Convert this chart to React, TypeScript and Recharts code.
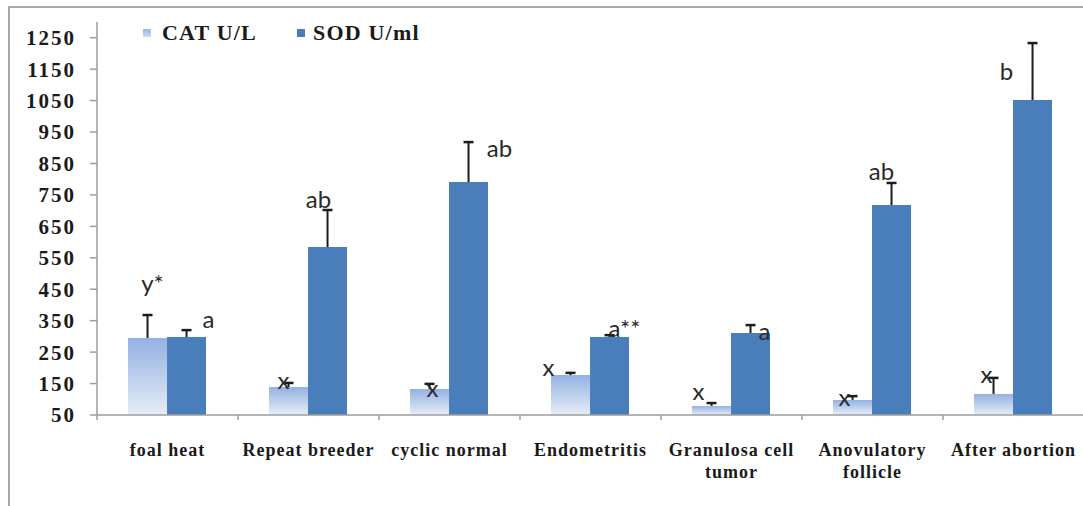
import React from 'react';
import { BarChart, Bar, XAxis, YAxis, LabelList, Legend } from 'recharts';

const categories = [
  'foal heat',
  'Repeat breeder',
  'cyclic normal',
  'Endometritis',
  'Granulosa cell\ntumor',
  'Anovulatory\nfollicle',
  'After abortion',
];
const catValues = [295, 139, 133, 177, 79, 98, 117];
const catErrors = [73, 13, 16, 7, 9, 12, 51];
const sodValues = [298, 584, 791, 298, 311, 718, 1052];
const sodErrors = [22, 118, 127, 6, 25, 70, 181];
const catLetters = ['y*', 'x', 'x', 'x', 'x', 'x', 'x'];
const sodLetters = ['a', 'ab', 'ab', 'a**', 'a', 'ab', 'b'];
const yTicks = [50, 150, 250, 350, 450, 550, 650, 750, 850, 950, 1050, 1150, 1250];
const yDomain = [50, 1300];

// label placement (dx, dy) relative to the top of each error bar
const catLetterOffsets = [[5, -23], [-5, 6], [3, 13], [-22, 3], [-13, -3], [-8, 10], [-7, 5]];
const sodLetterOffsets = [[22, -2], [-9, -2], [31, 15], [15, 2], [14, 15], [-10, -3], [-26, 37]];

const data = categories.map((c, i) => ({
  name: c,
  cat: catValues[i],
  sod: sodValues[i],
}));

const SOD_COLOR = '#4a7ebb';
const AXIS_COLOR = '#9d9d9d';
const SERIF = '"Liberation Serif", "Times New Roman", serif';
const SANS = 'Lato, Carlito, "Open Sans", sans-serif';

const CHART_W = 1100;
const CHART_H = 506;
const MARGIN = { top: 22, right: 16, bottom: 21, left: 0 };
const Y_AXIS_W = 97;
const PLOT_W = CHART_W - MARGIN.left - MARGIN.right - Y_AXIS_W;

const makeAnnotation = (values: number[], errors: number[], letters: string[], offsets: number[][]) =>
  (props: any) => {
    const vb = props.viewBox || props;
    const index = props.index;
    if (index == null || vb == null) return null;
    const x = Number(vb.x);
    const w = Number(vb.width);
    const hRaw = Number(vb.height);
    const h = Math.abs(hRaw);
    const top = hRaw < 0 ? Number(vb.y) + hRaw : Number(vb.y);
    const v = values[index];
    const pxPerUnit = h / (v - yDomain[0]);
    const cx = x + w / 2;
    const ey = top - errors[index] * pxPerUnit;
    const [dx, dy] = offsets[index];
    return (
      <g>
        <line x1={cx} y1={top} x2={cx} y2={ey} stroke="#1c1c1c" strokeWidth={2} />
        <line x1={cx - 5} y1={ey} x2={cx + 5} y2={ey} stroke="#1c1c1c" strokeWidth={2.5} />
        <text
          x={cx + dx}
          y={ey + dy}
          textAnchor="middle"
          fontFamily={SANS}
          fontSize={24}
          fill="#2a2a2a"
        >
          {letters[index]}
        </text>
      </g>
    );
  };

const XTick = (props: any) => {
  const { x, y, payload, index, visibleTicksCount } = props;
  const half = payload && typeof payload.offset === 'number' && payload.offset > 0
    ? payload.offset
    : PLOT_W / categories.length / 2;
  const lines = String(payload.value).split('\n');
  const isLast = index === (visibleTicksCount ?? categories.length) - 1;
  return (
    <g>
      <line x1={x - half} y1={y} x2={x - half} y2={y + 5} stroke={AXIS_COLOR} strokeWidth={1.5} />
      {isLast && (
        <line x1={x + half} y1={y} x2={x + half} y2={y + 5} stroke={AXIS_COLOR} strokeWidth={1.5} />
      )}
      <text
        x={x}
        y={y + 41}
        textAnchor="middle"
        fontFamily={SERIF}
        fontWeight="bold"
        fontSize={18}
        letterSpacing={1}
        fill="#1a1a1a"
      >
        {lines.map((l, i) => (
          <tspan key={i} x={x} dy={i === 0 ? 0 : 22}>
            {l}
          </tspan>
        ))}
      </text>
    </g>
  );
};

const LegendContent = () => (
  <div style={{ display: 'flex', alignItems: 'center', fontFamily: SERIF, fontWeight: 'bold', fontSize: 22, letterSpacing: 1.2, color: '#1a1a1a', whiteSpace: 'nowrap' }}>
    <span style={{ display: 'inline-block', width: 8, height: 8, background: 'linear-gradient(#9ab6e3, #c9d8f1)', marginRight: 11 }} />
    <span>CAT U/L</span>
    <span style={{ display: 'inline-block', width: 8, height: 8, background: SOD_COLOR, marginLeft: 40, marginRight: 8 }} />
    <span>SOD U/ml</span>
  </div>
);

export default function App() {
  return (
    <div
      style={{
        position: 'fixed',
        left: 0,
        top: 0,
        width: 1083,
        height: 506,
        overflow: 'hidden',
        background: '#ffffff',
      }}
    >
      <div
        style={{
          position: 'absolute',
          left: 8,
          top: 6,
          width: 1200,
          height: 700,
          border: '2px solid #a9a9a9',
          boxSizing: 'border-box',
        }}
      />
      <div style={{ position: 'absolute', left: 0, top: 0 }}>
        <BarChart
          width={CHART_W}
          height={CHART_H}
          data={data}
          margin={MARGIN}
          barCategoryGap="22%"
          barGap={0}
        >
          <defs>
            <linearGradient id="catGrad" x1="0" y1="0" x2="0" y2="1">
              <stop offset="0%" stopColor="#93b1e1" />
              <stop offset="100%" stopColor="#e6edf8" />
            </linearGradient>
          </defs>
          <XAxis
            dataKey="name"
            height={70}
            interval={0}
            tickLine={false}
            tickSize={0}
            tickMargin={0}
            axisLine={{ stroke: AXIS_COLOR, strokeWidth: 1.5 }}
            tick={<XTick />}
          />
          <YAxis
            width={Y_AXIS_W}
            domain={yDomain}
            ticks={yTicks}
            allowDataOverflow
            interval={0}
            tickSize={7}
            tickMargin={14}
            axisLine={{ stroke: AXIS_COLOR, strokeWidth: 1.5 }}
            tickLine={{ stroke: AXIS_COLOR, strokeWidth: 1.5 }}
            tick={{ fontFamily: SERIF, fontWeight: 'bold', fontSize: 21, fill: '#1a1a1a', letterSpacing: 2 }}
          />
          <Legend
            layout="horizontal"
            verticalAlign="middle"
            align="center"
            content={<LegendContent />}
            wrapperStyle={{ top: 20, left: 143, width: 400, height: 26 }}
          />
          <Bar dataKey="cat" name="CAT U/L" fill="url(#catGrad)" isAnimationActive={false}>
            <LabelList dataKey="cat" content={makeAnnotation(catValues, catErrors, catLetters, catLetterOffsets)} />
          </Bar>
          <Bar dataKey="sod" name="SOD U/ml" fill={SOD_COLOR} isAnimationActive={false}>
            <LabelList dataKey="sod" content={makeAnnotation(sodValues, sodErrors, sodLetters, sodLetterOffsets)} />
          </Bar>
        </BarChart>
      </div>
    </div>
  );
}
